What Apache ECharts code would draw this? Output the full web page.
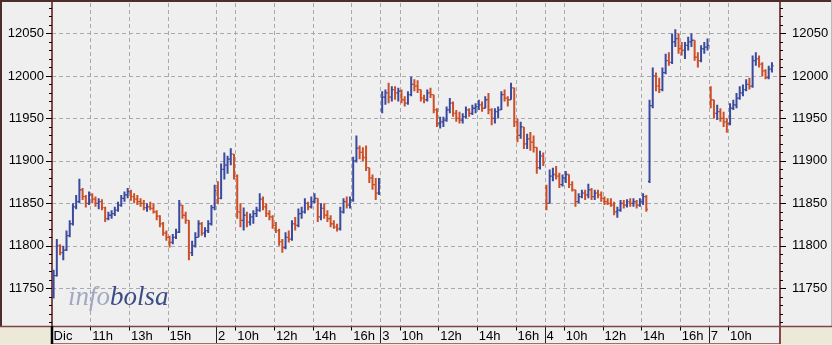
<!DOCTYPE html>
<html><head><meta charset="utf-8">
<script src="https://cdn.jsdelivr.net/npm/echarts@6/dist/echarts.min.js"></script>
<style>html,body{margin:0;padding:0;background:#ece9d8;}#c{width:832px;height:345px;}</style>
</head><body><div id="c"></div>
<script>
// ---- data: 10-minute bars, each [open, high, low, close] ----
const dayNames = ['Dic', '2', '3', '4', '7'];
const slotsPerDay = [51, 51, 51, 51, 22];
const hourLabels = [[11, 13, 15], [10, 12, 14, 16], [10, 12, 14, 16], [10, 12, 14, 16], [10]];

const day1 = [
[11745,11772,11738,11765],[11765,11808,11764,11800],[11800,11802,11789,11792],[11792,11800,11783,11795],
[11795,11818,11794,11812],[11812,11830,11810,11826],[11826,11850,11824,11846],[11846,11860,11843,11852],
[11852,11879,11850,11866],[11866,11868,11854,11858],[11858,11860,11845,11850],[11850,11864,11848,11860],
[11860,11862,11850,11855],[11855,11858,11846,11850],[11850,11856,11843,11852],[11852,11855,11842,11845],
[11845,11846,11828,11832],[11832,11840,11830,11836],[11836,11842,11832,11838],[11838,11846,11835,11842],
[11842,11852,11840,11848],[11848,11860,11846,11856],[11856,11864,11852,11860],[11860,11868,11856,11864],
[11864,11866,11853,11858],[11858,11862,11850,11855],[11855,11860,11848,11852],[11852,11856,11846,11850],
[11850,11854,11842,11845],[11845,11850,11840,11846],[11846,11852,11842,11844],[11844,11850,11838,11840],
[11840,11842,11830,11835],[11835,11836,11822,11826],[11826,11828,11812,11815],[11815,11818,11806,11810],
[11810,11812,11798,11804],[11804,11814,11802,11810],[11810,11820,11808,11816],[11816,11854,11815,11848],
[11848,11848,11832,11836],[11836,11840,11826,11830],[11830,11830,11783,11792],[11792,11806,11788,11800],
[11800,11816,11798,11810],[11810,11830,11810,11826],[11826,11828,11812,11815],[11815,11822,11810,11818],
[11818,11830,11815,11826],[11826,11848,11824,11845],[11845,11872,11842,11865]
];
const day2 = [
[11865,11876,11849,11856],[11856,11897,11855,11890],[11890,11910,11878,11895],[11895,11906,11885,11902],
[11902,11915,11895,11908],[11908,11908,11878,11882],[11882,11884,11832,11840],[11840,11850,11822,11830],
[11830,11845,11818,11836],[11836,11840,11822,11828],[11828,11838,11824,11834],[11834,11842,11826,11838],
[11838,11846,11834,11842],[11842,11862,11840,11855],[11855,11858,11842,11846],[11846,11850,11834,11838],
[11838,11842,11830,11834],[11834,11836,11820,11824],[11824,11828,11815,11818],[11818,11820,11800,11805],
[11805,11808,11792,11798],[11798,11816,11796,11810],[11810,11818,11804,11808],[11808,11830,11806,11826],
[11826,11834,11818,11824],[11824,11844,11822,11838],[11838,11846,11832,11840],[11840,11856,11838,11850],
[11850,11852,11842,11846],[11846,11858,11844,11852],[11852,11862,11850,11856],[11856,11856,11828,11834],
[11834,11850,11830,11844],[11844,11850,11832,11836],[11836,11842,11828,11832],[11832,11836,11822,11826],
[11826,11830,11820,11822],[11822,11826,11817,11820],[11820,11846,11818,11840],[11840,11856,11838,11852],
[11852,11858,11844,11848],[11848,11858,11844,11854],[11854,11905,11852,11900],[11900,11930,11898,11915],
[11915,11918,11902,11910],[11910,11916,11900,11904],[11904,11918,11888,11892],[11892,11892,11874,11880],
[11880,11884,11866,11872],[11872,11880,11854,11862],[11862,11880,11860,11874]
];
const day3 = [
[11960,11982,11956,11975],[11975,11984,11966,11980],[11980,11992,11968,11975],[11975,11988,11970,11984],
[11984,11988,11972,11980],[11980,11986,11970,11982],[11982,11984,11968,11972],[11972,11976,11964,11968],
[11968,11982,11966,11978],[11978,11999,11976,11990],[11990,11996,11982,11988],[11988,11995,11980,11984],
[11984,11984,11970,11974],[11974,11978,11968,11972],[11972,11984,11970,11980],[11980,11986,11974,11978],
[11978,11978,11956,11960],[11960,11962,11940,11944],[11944,11952,11938,11946],[11946,11952,11940,11948],
[11948,11964,11946,11960],[11960,11974,11956,11968],[11968,11970,11952,11956],[11956,11960,11946,11950],
[11950,11958,11944,11948],[11948,11956,11944,11952],[11952,11964,11950,11960],[11960,11962,11952,11956],
[11956,11966,11954,11962],[11962,11968,11956,11964],[11964,11972,11960,11966],[11966,11970,11958,11962],
[11962,11976,11962,11972],[11972,11980,11955,11960],[11960,11962,11942,11950],[11950,11962,11944,11958],
[11958,11964,11950,11960],[11960,11982,11960,11978],[11978,11984,11970,11974],[11974,11976,11964,11972],
[11972,11992,11972,11986],[11986,11986,11940,11946],[11946,11950,11922,11930],[11930,11946,11926,11940],
[11940,11940,11914,11920],[11920,11932,11914,11926],[11926,11934,11912,11922],[11922,11930,11910,11916],
[11916,11916,11885,11892],[11892,11912,11890,11906],[11906,11910,11894,11898]
];
const day4 = [
[11868,11872,11842,11850],[11850,11890,11850,11882],[11882,11892,11876,11884],[11884,11894,11878,11882],
[11882,11886,11868,11872],[11872,11884,11870,11880],[11880,11888,11874,11884],[11884,11884,11868,11872],
[11872,11876,11864,11866],[11866,11866,11846,11852],[11852,11862,11850,11858],[11858,11866,11856,11862],
[11862,11866,11854,11860],[11860,11873,11856,11866],[11866,11868,11854,11858],[11858,11866,11854,11862],
[11862,11866,11856,11860],[11860,11864,11852,11856],[11856,11858,11848,11852],[11852,11856,11848,11850],
[11850,11856,11846,11848],[11848,11852,11836,11840],[11840,11846,11833,11842],[11842,11854,11840,11850],
[11850,11854,11844,11848],[11848,11855,11845,11852],[11852,11856,11846,11850],[11850,11856,11846,11852],
[11852,11854,11844,11848],[11848,11856,11846,11852],[11852,11862,11848,11858],[11858,11860,11840,11843],
[11876,11972,11874,11965],[11965,12010,11962,12000],[12000,12004,11982,11988],[11988,11998,11980,11984],
[11984,12010,11982,12004],[12004,12026,12002,12018],[12018,12028,12012,12016],[12016,12050,12014,12040],
[12040,12055,12034,12044],[12044,12050,12026,12032],[12032,12040,12024,12030],[12030,12040,12020,12036],
[12036,12046,12030,12040],[12040,12050,12034,12042],[12042,12042,12018,12022],[12022,12028,12010,12018],
[12018,12036,12016,12032],[12032,12040,12026,12034],[12034,12044,12030,12036]
];
const day7 = [
[11986,11988,11962,11972],[11972,11972,11950,11956],[11956,11966,11948,11958],[11958,11962,11946,11950],
[11950,11958,11940,11946],[11946,11950,11933,11944],[11944,11968,11942,11962],[11962,11972,11960,11966],
[11966,11980,11962,11974],[11974,11988,11972,11980],[11980,11990,11976,11984],[11984,11996,11982,11990],
[11990,11998,11984,11988],[11988,12024,11986,12018],[12018,12028,12012,12020],[12020,12024,12010,12014],
[12014,12016,12000,12006],[12006,12008,11996,11998],[11998,12012,11996,12008],[12008,12016,12004,12012]
];
const dayBars = [day1, day2, day3, day4, day7];

const UP = '#3a4a9e', DOWN = '#cc4f27';

// ---- build categories / label map ----
const categories = [];
const dayStartIdx = [];
const labelAt = {};
slotsPerDay.forEach((n, d) => {
  dayStartIdx.push(categories.length);
  for (let s = 0; s < n; s++) {
    const mins = 9 * 60 + s * 10, hh = Math.floor(mins / 60), mm = mins % 60;
    const idx = categories.length;
    categories.push(dayNames[d] + ' ' + hh + ':' + String(mm).padStart(2, '0'));
    if (s === 0) labelAt[idx] = dayNames[d];
    else if (mm === 0 && hourLabels[d].indexOf(hh) >= 0) labelAt[idx] = hh + 'h';
  }
});
const ohlc = [];
dayBars.forEach((bars, d) => bars.forEach((b, j) => ohlc.push([dayStartIdx[d] + j, b[0], b[1], b[2], b[3]])));
const isDayStart = i => dayStartIdx.indexOf(i) >= 0;

const chart = echarts.init(document.getElementById('c'), null, {renderer: 'canvas'});
const FONT = 'Liberation Sans';
const gridStyle = {color: '#a9a9a9', type: [4, 3], width: 1};
const yCommon = {
  type: 'value', min: 11700, max: 12089.4, interval: 50, gridIndex: 0,
  axisLine: {show: true, lineStyle: {color: '#874848', width: 2}},
  axisTick: {show: true, length: 6, lineStyle: {color: '#000'}},
  minorTick: {show: true, splitNumber: 5, length: 3, lineStyle: {color: '#000'}},
  minorSplitLine: {show: false}
};
const yLabel = (m) => ({margin: m, fontSize: 13, fontFamily: FONT, color: '#000',
  showMinLabel: false, showMaxLabel: false, formatter: (v) => String(v)});
chart.setOption({
  animation: false,
  backgroundColor: '#efefef',
  grid: [
    {left: 52, right: 52, top: 0, bottom: 14.2},
    {left: 52, right: 52, top: 3, bottom: 18.5}
  ],
  xAxis: [
    {gridIndex: 0, type: 'category', data: categories, show: false, position: 'bottom'},
    {gridIndex: 1, type: 'category', data: categories, z: 0, position: 'bottom', offset: 0,
      axisLine: {show: false}, axisTick: {show: false}, axisLabel: {show: false},
      splitLine: {show: true, interval: (i) => labelAt[i] !== undefined && i !== 0, lineStyle: gridStyle}},
    {gridIndex: 1, type: 'category', data: categories, z: 11, position: 'bottom', offset: 0,
      axisLine: {show: false},
      axisTick: {show: true, length: 4, interval: (i) => labelAt[i] !== undefined && !isDayStart(i), lineStyle: {color: '#000'}},
      axisLabel: {show: true, interval: (i) => labelAt[i] !== undefined, formatter: (v, i) => labelAt[i] || '',
        align: 'left', margin: 3, fontSize: 13, fontFamily: FONT, color: '#000'},
      splitLine: {show: false}},
    {gridIndex: 1, type: 'category', data: categories, z: 11, position: 'bottom', offset: 0,
      axisLine: {show: false}, axisLabel: {show: false}, splitLine: {show: false},
      axisTick: {show: true, length: 17, interval: (i) => isDayStart(i) && i !== 0, lineStyle: {color: '#222', width: 1}}}
  ],
  yAxis: [
    Object.assign({}, yCommon, {position: 'left', axisLabel: yLabel(8),
      splitLine: {show: true, lineStyle: gridStyle}}),
    Object.assign({}, yCommon, {position: 'right', axisLabel: yLabel(12),
      splitLine: {show: false}}),
    {gridIndex: 1, type: 'value', show: false, min: 0, max: 1, splitLine: {show: false}}
  ],
  series: [{
    type: 'custom', xAxisIndex: 0, yAxisIndex: 0, z: 2, clip: true,
    data: ohlc,
    encode: {x: 0, y: [1, 2, 3, 4]},
    renderItem: function (params, api) {
      const i = api.value(0), o = api.value(1), h = api.value(2), l = api.value(3), c = api.value(4);
      const po = api.coord([i, o]), ph = api.coord([i, h]), pl = api.coord([i, l]), pc = api.coord([i, c]);
      const bw = api.size([1, 0])[0];
      const x = po[0], t = bw * 0.5;
      const col = c >= o ? UP : DOWN;
      return {type: 'group', children: [
        {type: 'line', shape: {x1: x, y1: ph[1], x2: x, y2: pl[1]}, style: {stroke: col, lineWidth: 2}},
        {type: 'line', shape: {x1: x - t, y1: po[1], x2: x, y2: po[1]}, style: {stroke: col, lineWidth: 1.3}},
        {type: 'line', shape: {x1: x, y1: pc[1], x2: x + t, y2: pc[1]}, style: {stroke: col, lineWidth: 1.3}}
      ]};
    }
  }],
  graphic: [
    {type: 'text', x: 68, y: 284, z: 1, silent: true, style: {
      text: '{a|info}{b|bolsa}', verticalAlign: 'top',
      rich: {
        a: {fill: '#a2a7c2', fontSize: 27, fontFamily: 'Liberation Serif', fontStyle: 'italic'},
        b: {fill: '#3d4b86', fontSize: 27, fontFamily: 'Liberation Serif', fontStyle: 'italic'}
      }}},
    {type: 'rect', z: 10, silent: true, shape: {x: 0, y: 327.2, width: 51, height: 18}, style: {fill: '#ece9d8'}},
    {type: 'rect', z: 10, silent: true, shape: {x: 781, y: 327.2, width: 51, height: 18}, style: {fill: '#ece9d8'}},
    {type: 'rect', z: 10, silent: true, shape: {x: 52, y: 344, width: 730, height: 2}, style: {fill: '#ece9d8'}},
    {type: 'rect', z: 10, silent: true, shape: {x: 53, y: 327.2, width: 726, height: 16.3}, style: {fill: '#efefef'}},
    {type: 'line', z: 12, silent: true, shape: {x1: 0, y1: 1, x2: 832, y2: 1}, style: {stroke: '#4d2c2c', lineWidth: 2}},
    {type: 'line', z: 12, silent: true, shape: {x1: 1, y1: 0, x2: 1, y2: 327}, style: {stroke: '#4d2c2c', lineWidth: 2}},
    {type: 'line', z: 12, silent: true, shape: {x1: 831.5, y1: 0, x2: 831.5, y2: 327}, style: {stroke: '#b9b9b9', lineWidth: 1}},
    {type: 'line', z: 12, silent: true, shape: {x1: 0, y1: 326.5, x2: 832, y2: 326.5}, style: {stroke: '#7d4545', lineWidth: 1.5}},
    {type: 'line', z: 12, silent: true, shape: {x1: 52, y1: 343.5, x2: 781, y2: 343.5}, style: {stroke: '#a86a6a', lineWidth: 1}},
    {type: 'line', z: 12, silent: true, shape: {x1: 780, y1: 326, x2: 780, y2: 344}, style: {stroke: '#874848', lineWidth: 2}},
    {type: 'line', z: 12, silent: true, shape: {x1: 52, y1: 326, x2: 52, y2: 344}, style: {stroke: '#000', lineWidth: 2.5}}
  ]
});
</script></body></html>
